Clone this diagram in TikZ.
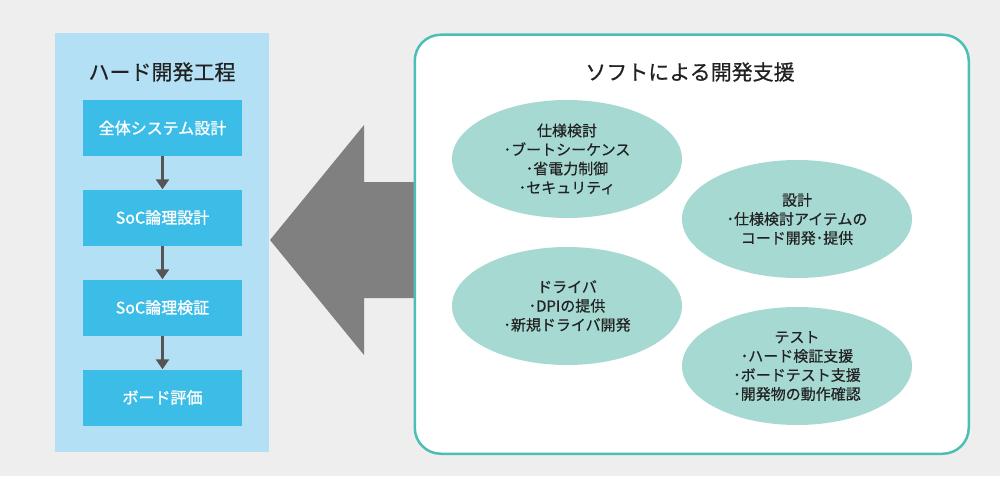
\documentclass[tikz,border=0pt]{standalone}
\usepackage{fontspec}
\setmainfont{Noto Sans CJK JP}
\newfontfamily\heavier[FakeBold=1.2]{Noto Sans CJK JP}
\newfontfamily\mediumish[FakeBold=0.5]{Noto Sans CJK JP}
\usetikzlibrary{shapes.geometric,arrows.meta}
\definecolor{bg}{HTML}{EEEEEE}
\definecolor{hwpanel}{HTML}{B3E0F5}
\definecolor{hwbox}{HTML}{3BBDE8}
\definecolor{flowarrow}{HTML}{555555}
\definecolor{bigarrow}{HTML}{808080}
\definecolor{teal}{HTML}{4BBFB5}
\definecolor{ell}{HTML}{A6D9D2}
\definecolor{txt}{HTML}{222222}
\tikzset{
  hwstep/.style={rectangle, fill=hwbox, minimum width=159pt, minimum height=56pt, inner sep=0pt,
    text=white, font=\heavier\fontsize{16}{19}\selectfont},
  flow/.style={draw=flowarrow, line width=3pt, -{Triangle[width=13pt,length=10pt]}},
  topic/.style={ellipse, fill=ell, minimum width=230pt, minimum height=118pt, inner sep=0pt,
    align=center, text=txt, font=\mediumish\fontsize{15}{19}\selectfont},
  paneltitle/.style={text=txt, font=\mediumish\fontsize{21}{25}\selectfont, inner sep=0pt},
}
\begin{document}
\begin{tikzpicture}[x=1pt,y=-1pt]
\fill[bg] (0,0) rectangle (1000,476);
\useasboundingbox (0,0) rectangle (1000,476);
% left panel
\node[rectangle, fill=hwpanel, minimum width=214pt, minimum height=419pt, inner sep=0pt, anchor=north west] (hw) at (55,33) {};
\node[paneltitle] (hwtitle) at (162,72) {ハード開発工程};
\node[hwstep] (b1) at (162.5,128) {全体システム設計};
\node[hwstep] (b2) at (162.5,217.5) {SoC論理設計};
\node[hwstep] (b3) at (162.5,307.5) {SoC論理検証};
\node[hwstep] (b4) at (162.5,397.5) {ボード評価};
\draw[flow] (b1) -- (b2);
\draw[flow] (b2) -- (b3);
\draw[flow] (b3) -- (b4);
% big arrow
\fill[bigarrow] (270,240) -- (364,125) -- (364,182) -- (440,182) -- (440,298) -- (364,298) -- (364,355) -- cycle;
% right panel
\node[rectangle, rounded corners=26pt, draw=teal, line width=2.5pt, fill=white, minimum width=554pt, minimum height=419pt, inner sep=0pt, anchor=north west] (sw) at (413.5,33.5) {};
\node[paneltitle] (swtitle) at (690,72) {ソフトによる開発支援};
\node[topic] (e1) at (567,159) {仕様検討\\･ブートシーケンス\\･省電力制御\\･セキュリティ};
\node[topic] (e2) at (797,219) {設計\\･仕様検討アイテムの\\コード開発･提供};
\node[topic] (e3) at (567,306) {ドライバ\\･DPIの提供\\･新規ドライバ開発};
\node[topic] (e4) at (797,366) {テスト\\･ハード検証支援\\･ボードテスト支援\\･開発物の動作確認};
\end{tikzpicture}
\end{document}
